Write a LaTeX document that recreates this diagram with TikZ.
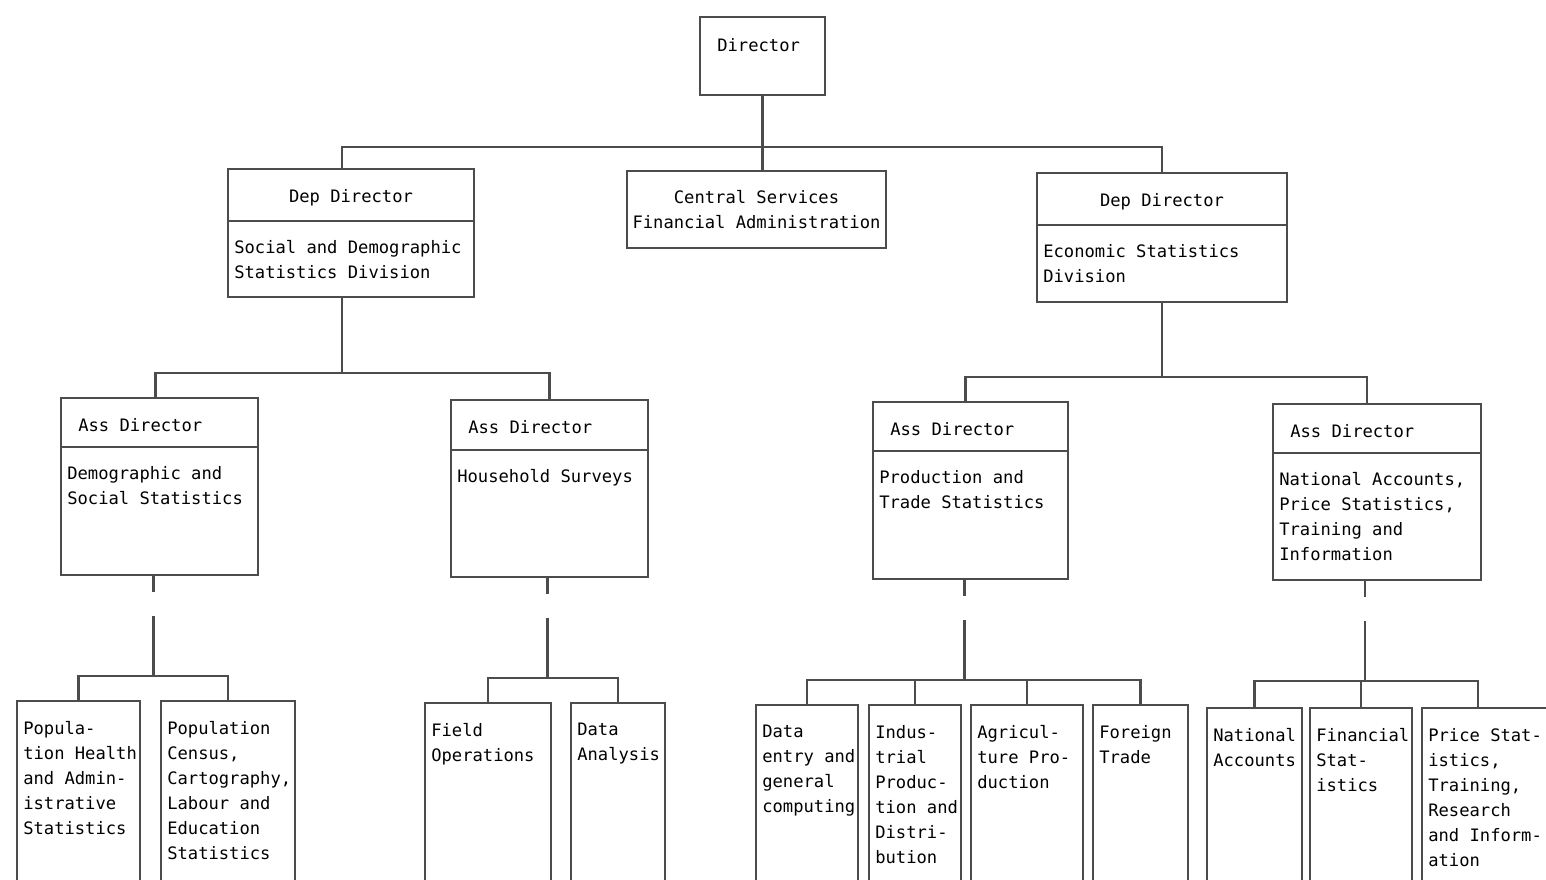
\documentclass[tikz,border=0pt]{standalone}
\usepackage{fontspec}
\setmonofont{DejaVu Sans Mono}
\definecolor{ink}{gray}{0.3}
\tikzstyle{box} = [draw=ink, line width=1.5pt, rectangle, inner sep=0pt, outer sep=0pt, anchor=north west]
\tikzstyle{txt} = [font=\ttfamily\fontsize{12.2}{17.8}\selectfont, inner sep=0pt, align=left, text=black, anchor=north west]
\tikzstyle{link} = [draw=ink, line width=1.5pt]
\tikzset{wd/.style={minimum width=#1*0.025cm}, ht/.style={minimum height=#1*0.025cm}}

\begin{document}
\begin{tikzpicture}[x=0.025cm, y=-0.025cm]
\useasboundingbox (0,0) rectangle (1546,880);
\clip (0,0) rectangle (1546,880);
% director, deputies, central services
\node[box, wd=125, ht=78] (dir) at (700,17) {};
\node[txt] (dir-t) at ([shift={(17,21)}]dir.north west) {Director};
\node[box, wd=246, ht=52] (dep1h) at (228,169) {};
\node[box, wd=246, ht=76] (dep1b) at (dep1h.south west) {};
\node[txt, anchor=center] (dep1h-t) at ([yshift=-0.075cm]dep1h.center) {Dep Director};
\node[txt] (dep1b-t) at ([shift={(6,19)}]dep1b.north west) {Social and Demographic\\Statistics Division};
\node[box, wd=259, ht=77] (cs) at (627,171) {};
\node[txt, anchor=center, align=center] (cs-t) at (cs.center) {Central Services\\Financial Administration};
\node[box, wd=250, ht=52] (dep2h) at (1037,173) {};
\node[box, wd=250, ht=77] (dep2b) at (dep2h.south west) {};
\node[txt, anchor=center] (dep2h-t) at ([yshift=-0.075cm]dep2h.center) {Dep Director};
\node[txt] (dep2b-t) at ([shift={(6,19)}]dep2b.north west) {Economic Statistics\\Division};
% assistant directors
\node[box, wd=197, ht=49] (ass1h) at (61,398) {};
\node[box, wd=197, ht=128] (ass1b) at (ass1h.south west) {};
\node[txt] (ass1h-t) at ([shift={(17,20)}]ass1h.north west) {Ass Director};
\node[txt] (ass1b-t) at ([shift={(6,19)}]ass1b.north west) {Demographic and\\Social Statistics};
\node[box, wd=197, ht=50] (ass2h) at (451,400) {};
\node[box, wd=197, ht=127] (ass2b) at (ass2h.south west) {};
\node[txt] (ass2h-t) at ([shift={(17,20)}]ass2h.north west) {Ass Director};
\node[txt] (ass2b-t) at ([shift={(6,19)}]ass2b.north west) {Household Surveys};
\node[box, wd=195, ht=49] (ass3h) at (873,402) {};
\node[box, wd=195, ht=128] (ass3b) at (ass3h.south west) {};
\node[txt] (ass3h-t) at ([shift={(17,20)}]ass3h.north west) {Ass Director};
\node[txt] (ass3b-t) at ([shift={(6,19)}]ass3b.north west) {Production and\\Trade Statistics};
\node[box, wd=208, ht=49] (ass4h) at (1273,404) {};
\node[box, wd=208, ht=127] (ass4b) at (ass4h.south west) {};
\node[txt] (ass4h-t) at ([shift={(17,20)}]ass4h.north west) {Ass Director};
\node[txt] (ass4b-t) at ([shift={(6,19)}]ass4b.north west) {National Accounts,\\Price Statistics,\\Training and\\Information};
% units
\node[box, wd=123, ht=200] (u1) at (17,701) {};
\node[box, wd=134, ht=200] (u2) at (161,701) {};
\node[box, wd=126, ht=200] (u3) at (425,703) {};
\node[box, wd=94, ht=200] (u4) at (571,703) {};
\node[box, wd=102, ht=200] (u5) at (756,705) {};
\node[box, wd=92, ht=200] (u6) at (869,705) {};
\node[box, wd=112, ht=200] (u7) at (971,705) {};
\node[box, wd=95, ht=200] (u8) at (1093,705) {};
\node[box, wd=95, ht=200] (u9) at (1207,708) {};
\node[box, wd=102, ht=200] (u10) at (1310,708) {};
\node[box, wd=128, ht=200] (u11) at (1422,708) {};
\node[txt] (u1-t) at ([shift={(6,20)}]u1.north west) {Popula-\\tion Health\\and Admin-\\istrative\\Statistics};
\node[txt] (u2-t) at ([shift={(6,20)}]u2.north west) {Population\\Census,\\Cartography,\\Labour and\\Education\\Statistics};
\node[txt] (u3-t) at ([shift={(6,20)}]u3.north west) {Field\\Operations};
\node[txt] (u4-t) at ([shift={(6,20)}]u4.north west) {Data\\Analysis};
\node[txt] (u5-t) at ([shift={(6,20)}]u5.north west) {Data\\entry and\\general\\computing};
\node[txt] (u6-t) at ([shift={(6,20)}]u6.north west) {Indus-\\trial\\Produc-\\tion and\\Distri-\\bution};
\node[txt] (u7-t) at ([shift={(6,20)}]u7.north west) {Agricul-\\ture Pro-\\duction};
\node[txt] (u8-t) at ([shift={(6,20)}]u8.north west) {Foreign\\Trade};
\node[txt] (u9-t) at ([shift={(6,20)}]u9.north west) {National\\Accounts};
\node[txt] (u10-t) at ([shift={(6,20)}]u10.north west) {Financial\\Stat-\\istics};
\node[txt] (u11-t) at ([shift={(6,20)}]u11.north west) {Price Stat-\\istics,\\Training,\\Research\\and Inform-\\ation};
% connectors
\draw[link] (dir.south) -- (dir.south |- cs.north);
\path (dir.south) ++(0,52) coordinate (bus0);
\draw[link] ([xshift=-0.225cm]dep1h.north) |- (bus0) -| (dep2h.north);
\draw[link] ([xshift=-0.225cm]dep1b.south) -- ++(0,76) coordinate (bus1);
\draw[link] ([xshift=-0.1cm]ass1h.north) |- (bus1) -| (ass2h.north);
\draw[link] (dep2b.south) -- ++(0,75) coordinate (bus2);
\draw[link] ([xshift=-0.125cm]ass3h.north) |- (bus2) -| ([xshift=-0.25cm]ass4h.north);
\foreach \i/\s in {1/-0.15,2/-0.05,3/-0.15,4/-0.3}
  \draw[link] ([xshift=\s cm]ass\i b.south) -- ++(0,17) ++(0,24) -- ++(0,60) coordinate (j\i);
\draw[link] (u1.north) |- (j1) -| (u2.north);
\draw[link] (u3.north) |- (j2) -| (u4.north);
\draw[link] (u5.north) |- (j3) -| (u8.north);
\draw[link] (u6.north) -- (u6.north |- j3);
\draw[link] (u7.north) -- (u7.north |- j3);
\draw[link] (u9.north) |- (j4) -| ([xshift=-0.2cm]u11.north);
\draw[link] (u10.north) -- (u10.north |- j4);
\end{tikzpicture}
\end{document}
